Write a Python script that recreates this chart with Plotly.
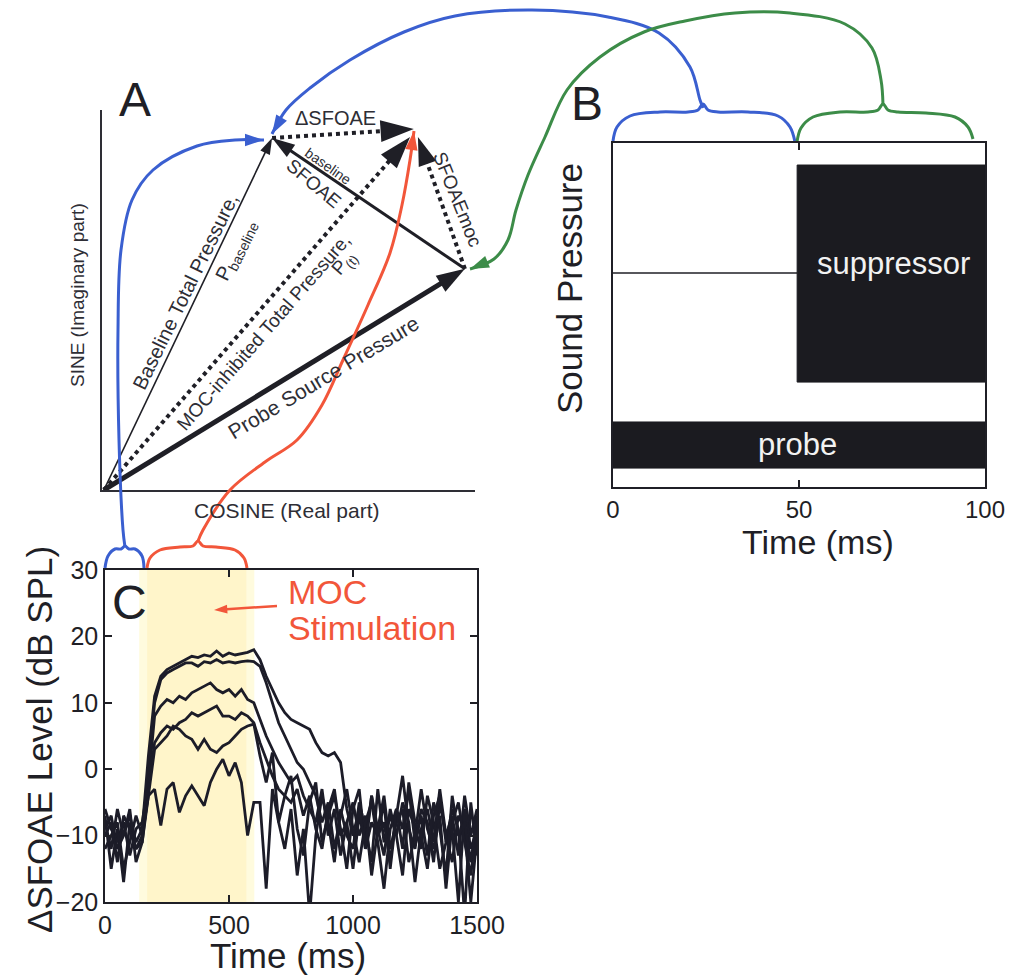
import plotly.graph_objects as go

W, H = 1016, 977
FONT = "Liberation Sans, Arial, Helvetica, sans-serif"
INK = "#1f1f26"
GREY = "#2e2e35"
BLUE = "#3a5fd0"
GREEN = "#3c8c48"
RED = "#f2563a"

# ---------------- Panel A: phasor diagram (axis units 0..1) ----------------
vec_names = ["Probe source", "Baseline total", "MOC-inhibited total",
             "Baseline SFOAE", "SFOAE moc", "Delta SFOAE"]
vec_x0 = [0.005, 0.005, 0.005, 0.973, 0.973, 0.456]
vec_y0 = [0.000, 0.000, 0.000, 0.582, 0.582, 0.926]
vec_x1 = [0.973, 0.456, 0.826, 0.456, 0.847, 0.836]
vec_y1 = [0.582, 0.926, 0.929, 0.926, 0.929, 0.950]

# ---------------- Panel B: stimulus waveforms (arbitrary units) ----------------
b_xticks = [0, 50, 100]
supp_onset, supp_end = 49.5, 100
supp_baseline = 6.22
supp_top, supp_bottom = 9.36, 3.05
probe_start, probe_end = 0, 100
probe_top, probe_bottom = 1.89, 0.55

# ---------------- Panel C: delta SFOAE level traces ----------------
c_time = list(range(0, 1501, 25))
c_xticks = [0, 500, 1000, 1500]
c_yticks = [-20, -10, 0, 10, 20, 30]
stim_on, stim_off = 150, 590

c_level_1 = [-8, -12, -6, -10, -7, -11, -9,
             2, 11, 14, 15, 15.5, 16, 16.5, 17, 16.8, 17.2, 17, 17.8, 17, 17.5, 17.2, 17.4, 17.6, 18,
             16.5, 14, 12, 10, 8.5, 7.5, 7, 6.5, 6, 4, 2.5, 2, 2.5, 1, -6, -10,
             -6, -12, -4, -10, -8, -14, -6, -9, -3, -11, -7, -13, -5, -9, -16, -4, -10, -8, -14, -7]
c_level_2 = [-10, -8, -14, -7, -9, -12, -10,
             0, 10, 13.5, 14.5, 15, 15.5, 16, 16, 15.5, 16.2, 16, 16.5, 16, 16.2, 16, 16.2, 16.3, 16.2,
             15.5, 13, 10, 7, 5, 3, 1, 0, -2, -4, -8, -5, -12, -7, -3, -9,
             -14, -8, -5, -11, -18, -9, -6, -12, -2, -8, -10, -15, -7, -4, -11, -9, -20, -6, -12, -9]
c_level_3 = [-6, -9, -11, -8, -13, -9, -8,
             -2, 8, 9.5, 10.5, 10, 11, 10.5, 11.5, 12, 12.5, 13, 12, 11.5, 12, 11, 12, 10.5, 10,
             7.5, 5, 3, 1, -0.5, -2, -1, -4, -6, -8, -3, -10, -6, -13, -8, -5,
             -10, -7, -16, -9, -4, -12, -8, -6, -14, -10, -3, -9, -12, -7, -18, -8, -5, -11, -16, -8]
c_level_4 = [-9, -7, -12, -10, -6, -14, -11,
             -3, 4, 5.5, 6.5, 6, 7, 7.5, 8.5, 8, 8.5, 9, 9.5, 8, 8, 7.5, 8.5, 8, 7,
             4, 1.5, -1, -3, -4, -5, -3, -7, -4, -9, -12, -6, -3, -10, -8, -15,
             -7, -11, -4, -9, -13, -6, -10, -5, -8, -17, -9, -6, -11, -3, -10, -14, -7, -9, -20, -10]
c_level_5 = [-12, -10, -8, -15, -11, -7, -10,
             -4, 3, 4, 5, 6.5, 6, 5, 4.5, 3, 4.5, 3, 2.5, 3.5, 4, 5, 6, 6.5, 6.8,
             2, -2, 2.5, -8, -4, -1, -9, -13, -5, -2, -11, -7, -4, -9, -15, -6,
             -3, -12, -8, -10, -5, -15, -7, -1, -9, -12, -6, -8, -14, -5, -10, -7, -13, -4, -10, -6]
c_level_6 = [-7, -15, -9, -17, -8, -12, -11,
             -4, -3, -8.5, -3, -2, -6.5, -4, -2.5, -4, -5.5, -2, 0, 1.5, -1, 1, -2, -10, -5,
             -5, -18, -3, -8, -12, -6, -16, -9, -22, -10, -4, -8, -14, -6, -10, -12,
             -5, -9, -14, -3, -11, -7, -10, -16, -6, -9, -12, -4, -8, -15, -11, -6, -9, -22, -5, -13]

# ---------------- connectors (page pixel coordinates) ----------------
blue_top_x = [703, 700, 690, 659, 608, 532, 455, 404, 350, 310, 286, 272]
blue_top_y = [108, 100, 67, 33, 17, 10, 16, 32, 60, 88, 110, 134]
blue_left_x = [125, 123, 119, 118, 121, 132, 153, 197, 235, 264]
blue_left_y = [547, 530, 440, 330, 250, 200, 170, 146, 140, 140]
red_x = [198, 203, 230, 265, 297, 322, 343, 368, 390, 402, 410, 414]
red_y = [541, 530, 490, 462, 440, 405, 360, 305, 253, 205, 160, 131]
green_x = [883, 881, 872, 845, 790, 735, 685, 644, 600, 567, 545, 528, 516, 508, 494, 470]
green_y = [105, 80, 48, 24, 13, 13, 21, 32, 57, 90, 137, 175, 210, 240, 259, 269]

brace_b_blue_x = [613, 617, 630, 660, 688, 698, 703, 708, 718, 748, 778, 790, 795]
brace_b_blue_y = [141, 127, 116, 112, 112, 110, 104, 110, 112, 112, 116, 127, 142]
brace_b_green_x = [797, 801, 813, 840, 868, 878, 883, 888, 898, 926, 955, 968, 973]
brace_b_green_y = [142, 128, 117, 112, 112, 110, 104, 110, 112, 113, 117, 127, 139]
brace_c_blue_x = [105, 108, 115, 121, 125, 129, 135, 142, 144]
brace_c_blue_y = [568, 556, 549, 549, 546, 549, 549, 556, 568]
brace_c_red_x = [147, 150, 160, 180, 193, 198, 203, 216, 235, 244, 247]
brace_c_red_y = [568, 558, 550, 547, 546, 541, 546, 547, 550, 558, 568]
moc_arrow_x = [277, 214]
moc_arrow_y = [606, 610]

fig = go.Figure()


def arrow_trace(x, y, color, width, head, dash="solid", xa="x", ya="y", shape="linear"):
    n = len(x)
    fig.add_trace(go.Scatter(
        x=x, y=y, mode="lines+markers", xaxis=xa, yaxis=ya,
        line=dict(color=color, width=width, dash=dash, shape=shape),
        marker=dict(symbol="arrow", angleref="previous", opacity=1,
                    size=[0] * (n - 1) + [head], color=color, line=dict(width=0)),
        hoverinfo="skip", showlegend=False))


def plain_trace(x, y, color, width, xa, ya, shape="spline"):
    fig.add_trace(go.Scatter(
        x=x, y=y, mode="lines", xaxis=xa, yaxis=ya,
        line=dict(color=color, width=width, shape=shape),
        hoverinfo="skip", showlegend=False))


# ---- Panel A vectors ----
vec_width = [5, 1.6, 4, 3, 4, 4]
vec_dash = ["solid", "solid", "dot", "solid", "dot", "dot"]
vec_head = [30, 17, 34, 24, 30, 35]
for i in range(len(vec_names)):
    arrow_trace([vec_x0[i], vec_x1[i]], [vec_y0[i], vec_y1[i]], INK,
                vec_width[i], vec_head[i], dash=vec_dash[i])

# ---- connectors on overlay (x2/y2) ----
plain_trace(brace_b_blue_x, brace_b_blue_y, BLUE, 3, "x2", "y2")
plain_trace(brace_b_green_x, brace_b_green_y, GREEN, 3, "x2", "y2")
plain_trace(brace_c_blue_x, brace_c_blue_y, BLUE, 3, "x2", "y2")
plain_trace(brace_c_red_x, brace_c_red_y, RED, 3, "x2", "y2")
arrow_trace(blue_top_x, blue_top_y, BLUE, 3, 20, xa="x2", ya="y2", shape="spline")
arrow_trace(blue_left_x, blue_left_y, BLUE, 3, 20, xa="x2", ya="y2", shape="spline")
arrow_trace(red_x, red_y, RED, 3, 20, xa="x2", ya="y2", shape="spline")
arrow_trace(green_x, green_y, GREEN, 3, 20, xa="x2", ya="y2", shape="spline")
arrow_trace(moc_arrow_x, moc_arrow_y, RED, 2.5, 14, xa="x2", ya="y2")

# ---- Panel B ----
fig.add_trace(go.Scatter(x=[probe_start, supp_onset], y=[supp_baseline, supp_baseline],
                         mode="lines", line=dict(color=INK, width=1.5),
                         xaxis="x3", yaxis="y3", hoverinfo="skip", showlegend=False))
fig.add_trace(go.Scatter(x=[supp_onset, supp_end, supp_end, supp_onset, supp_onset],
                         y=[supp_top, supp_top, supp_bottom, supp_bottom, supp_top],
                         mode="lines", fill="toself", fillcolor="#1b1b20",
                         line=dict(color="#1b1b20", width=1),
                         xaxis="x3", yaxis="y3", hoverinfo="skip", showlegend=False))
fig.add_trace(go.Scatter(x=[probe_start, probe_end, probe_end, probe_start, probe_start],
                         y=[probe_top, probe_top, probe_bottom, probe_bottom, probe_top],
                         mode="lines", fill="toself", fillcolor="#1b1b20",
                         line=dict(color="#1b1b20", width=1),
                         xaxis="x3", yaxis="y3", hoverinfo="skip", showlegend=False))

# ---- Panel C ----
for lv in [c_level_6, c_level_5, c_level_4, c_level_3, c_level_2, c_level_1]:
    fig.add_trace(go.Scatter(x=c_time, y=lv, mode="lines",
                             line=dict(color="#1c1c28", width=2.8),
                             xaxis="x4", yaxis="y4", hoverinfo="skip", showlegend=False))

shapes = [
    dict(type="rect", xref="x4", yref="y4 domain", x0=stim_on - 12, x1=stim_off + 12, y0=0, y1=1,
         fillcolor="rgba(255,251,222,1)", line=dict(width=0), layer="below"),
    dict(type="rect", xref="x4", yref="y4 domain", x0=stim_on + 20, x1=stim_off - 20, y0=0, y1=1,
         fillcolor="rgba(255,240,185,0.55)", line=dict(width=0), layer="below"),
]

ann = []


def txt(x, y, s, size, color=GREY, angle=0, xanchor="center"):
    ann.append(dict(x=x, y=y, xref="x2", yref="y2", text=s, showarrow=False,
                    textangle=angle, xanchor=xanchor, yanchor="middle", borderpad=0,
                    font=dict(family=FONT, size=size, color=color)))


txt(135, 99, "A", 48, INK)
txt(587, 103, "B", 48, INK)
txt(129, 602, "C", 48, INK)
txt(77, 295, "SINE (Imaginary part)", 19, angle=-90)
txt(287, 510, "COSINE (Real part)", 21)
txt(185, 292, "Baseline Total Pressure,", 20, angle=-64)
txt(236, 250, "P<sub>baseline</sub>", 20, angle=-64)
txt(263, 332, "MOC-inhibited Total Pressure,", 19, angle=-49)
txt(344, 264, "P<sub>(t)</sub>", 19, angle=-49)
txt(323, 377, "Probe Source Pressure", 21, angle=-31)
txt(335, 118, "\u0394SFOAE", 20)
txt(328, 166, "baseline", 14, angle=35)
txt(314, 183, "SFOAE", 19, angle=40)
txt(458, 199, "SFOAEmoc", 19, angle=68)
txt(569, 289, "Sound Pressure", 35, INK, angle=-90)
txt(818, 542, "Time (ms)", 34, INK)
txt(893, 263, "suppressor", 31, "#f2f2f2")
txt(797, 444, "probe", 31, "#f2f2f2")
txt(288, 955, "Time (ms)", 35, INK)
txt(39, 740, "\u0394SFOAE Level (dB SPL)", 35, INK, angle=-90)
txt(287, 592, "MOC", 34, RED, xanchor="left")
txt(287, 628, "Stimulation", 34, RED, xanchor="left")

box_axis = dict(showline=True, linecolor=INK, linewidth=1.5, showgrid=False, zeroline=False,
                ticks="inside", ticklen=7, tickcolor=INK, tickwidth=1.5, mirror="ticks",
                tickfont=dict(family=FONT, size=25, color=INK), fixedrange=True)
box_axis_b = dict(box_axis, tickfont=dict(family=FONT, size=24, color=INK))

fig.update_layout(
    width=W, height=H, margin=dict(l=0, r=0, t=0, b=0, autoexpand=False),
    paper_bgcolor="white", plot_bgcolor="rgba(0,0,0,0)", showlegend=False,
    font=dict(family=FONT, color=INK),
    xaxis=dict(domain=[102 / W, 475 / W], range=[0, 1], anchor="y", showline=True,
               linecolor=GREY, linewidth=1.5, showgrid=False, zeroline=False,
               showticklabels=False, ticks="", fixedrange=True),
    yaxis=dict(domain=[1 - 490 / H, 1 - 110 / H], range=[0, 1], anchor="x", showline=True,
               linecolor=GREY, linewidth=1.5, showgrid=False, zeroline=False,
               showticklabels=False, ticks="", fixedrange=True),
    xaxis2=dict(domain=[0, 1], range=[0, W], anchor="y2", visible=False, fixedrange=True),
    yaxis2=dict(domain=[0, 1], range=[H, 0], anchor="x2", visible=False, fixedrange=True),
    xaxis3=dict(domain=[613 / W, 985 / W], range=[0, 100], anchor="y3",
                tickvals=b_xticks, **box_axis_b),
    yaxis3=dict(domain=[1 - 487 / H, 1 - 143 / H], range=[0, 10], anchor="x3",
                showline=True, linecolor=INK, linewidth=1.5, mirror=True, showgrid=False,
                zeroline=False, showticklabels=False, ticks="", fixedrange=True),
    xaxis4=dict(domain=[105 / W, 477 / W], range=[0, 1500], anchor="y4",
                tickvals=c_xticks, **box_axis),
    yaxis4=dict(domain=[1 - 902 / H, 1 - 570 / H], range=[-20, 30], anchor="x4",
                tickvals=c_yticks, **box_axis),
    shapes=shapes,
    annotations=ann,
)

fig.write_html("out.html")
